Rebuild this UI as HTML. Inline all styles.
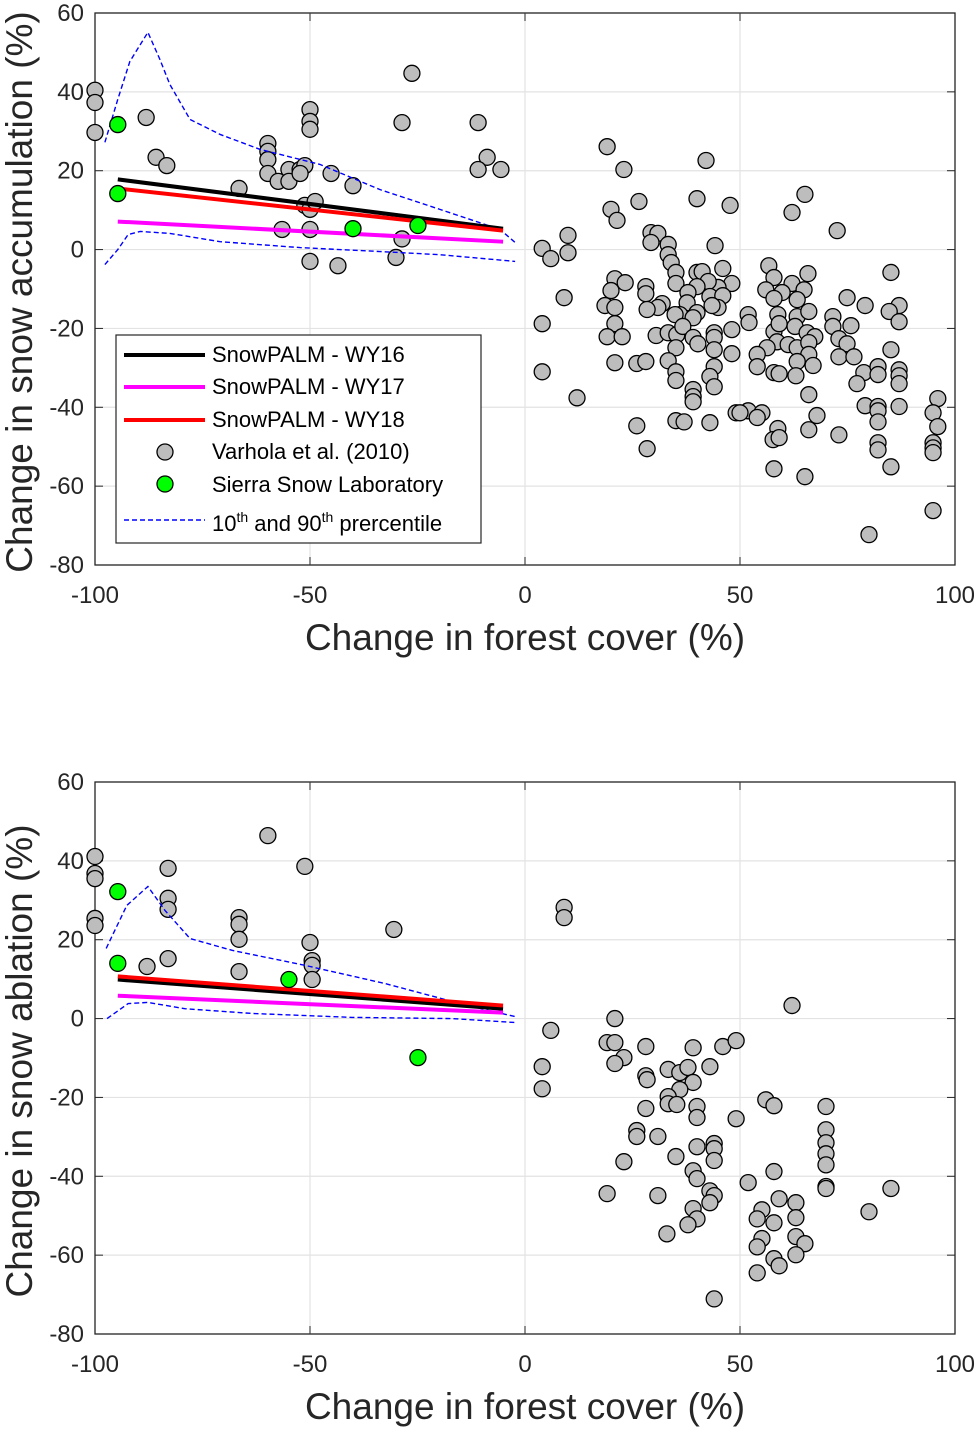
<!DOCTYPE html>
<html><head><meta charset="utf-8"><style>
body{margin:0;background:#fff;}
svg{display:block;font-family:"Liberation Sans",Arial,sans-serif;}
</style></head><body>
<svg id="fig" width="979" height="1429" viewBox="0 0 979 1429" xmlns="http://www.w3.org/2000/svg"></svg>
<script>
const xTicks=[-100,-50,0,50,100];
const yTicks=[-80,-60,-40,-20,0,20,40,60];
// Top panel: snow accumulation
const accVarhola=[[-100,40.4],[-100,37.3],[-100,29.7],[-88.1,33.5],[-85.8,23.4],[-83.3,21.3],[-66.5,15.5],[-59.8,26.9],[-59.8,24.9],[-59.8,22.8],[-59.8,19.3],[-57.4,17.3],[-54.9,20.3],[-54.9,17.3],[-52.3,20.3],[-51.2,21.3],[-50,35.5],[-50,32.5],[-50,30.5],[-51.2,11.2],[-50,10.2],[-48.8,12.2],[-52.3,19.3],[-45.1,19.3],[-40,16.2],[-56.5,5.1],[-50,-3],[-50,5.1],[-43.5,-4.1],[-30,-2],[-28.6,2.7],[-28.6,32.2],[-26.3,44.7],[-10.9,32.2],[-8.8,23.4],[-10.9,20.3],[-5.6,20.3],
[19.1,26.1],[23.0,20.3],[42.1,22.6],[40.0,12.9],[47.7,11.2],[26.5,12.2],[20.0,10.2],[21.4,7.4],[10.0,3.6],[10.0,-0.8],[4.0,0.3],[6.0,-2.3],[44.2,1.0],[29.3,4.3],[30.9,4.1],[29.3,1.8],[33.3,1.3],[33.3,-1.3],[34.0,-3.3],[35.1,-5.8],[35.1,-8.6],[40.0,-5.8],[41.2,-5.6],[46.0,-4.8],[48.1,-8.6],[44.9,-9.6],[42.6,-8.1],[40.0,-9.4],[37.9,-10.9],[43.0,-11.9],[46.0,-11.7],[44.9,-14.7],[43.5,-14.2],[20.9,-7.4],[23.3,-8.4],[20.0,-10.4],[9.1,-12.2],[28.1,-9.4],[28.1,-11.2],[31.9,-13.7],[30.9,-14.7],[28.4,-15.2],[37.7,-13.5],[40.0,-16.0],[36.0,-16.5],[34.9,-16.5],[39.1,-17.3],[18.6,-14.2],[20.9,-14.7],[20.9,-18.8],[4.0,-18.8],[19.1,-22.1],[22.6,-22.1],[30.5,-21.8],[33.3,-21.1],[35.3,-21.6],[36.7,-19.5],[39.1,-22.3],[40.2,-23.9],[44.0,-21.1],[44.0,-22.3],[44.0,-25.4],[48.1,-20.3],[48.1,-26.4],[35.1,-24.9],[20.9,-28.7],[26.0,-28.9],[28.1,-28.4],[33.3,-28.2],[35.1,-31.0],[35.1,-33.2],[44.0,-29.7],[43.0,-32.2],[44.0,-34.8],[4.0,-31.0],[12.1,-37.6],[39.1,-35.5],[39.1,-37.3],[39.1,-38.6],[26.0,-44.7],[35.1,-43.4],[37.0,-43.7],[43.0,-43.9],[49.1,-41.4],[28.4,-50.5],
[65.1,14.0],[62.1,9.4],[72.6,4.8],[56.7,-4.1],[57.9,-7.1],[65.8,-6.1],[62.1,-8.6],[64.9,-10.2],[56.0,-10.2],[59.8,-10.9],[57.9,-12.4],[63.3,-12.7],[74.9,-12.2],[79.1,-14.2],[85.1,-5.8],[87.0,-14.2],[84.7,-15.7],[87.0,-18.3],[51.9,-16.5],[52.1,-18.5],[58.8,-16.5],[57.9,-20.8],[59.1,-18.8],[63.3,-17.0],[62.8,-19.5],[66.0,-15.7],[71.6,-17.0],[71.6,-19.5],[75.8,-19.3],[65.6,-21.1],[67.4,-22.1],[58.6,-23.4],[56.3,-24.9],[54.0,-26.6],[54.0,-29.7],[61.2,-24.1],[63.3,-24.9],[66.0,-23.6],[66.0,-26.6],[63.3,-28.4],[67.0,-29.4],[63.0,-32.0],[57.9,-31.2],[59.1,-31.5],[73.0,-22.6],[74.9,-23.9],[73.0,-27.2],[76.5,-27.2],[85.1,-25.4],[78.8,-31.2],[82.1,-29.7],[82.1,-31.7],[77.2,-34.0],[87.0,-30.5],[87.0,-32.0],[87.0,-34.0],[66.0,-36.8],[51.9,-40.9],[55.1,-41.4],[54.0,-42.6],[50.0,-41.4],[67.9,-42.1],[66.0,-45.7],[58.8,-45.4],[57.7,-48.2],[59.1,-47.7],[73.0,-47.0],[79.1,-39.6],[82.1,-39.8],[82.1,-40.9],[82.1,-43.7],[87.0,-39.8],[82.1,-49.0],[82.1,-50.8],[85.1,-55.1],[57.9,-55.6],[65.1,-57.6],[96.0,-37.8],[94.9,-41.4],[96.0,-44.9],[94.9,-49.0],[94.9,-50.3],[94.9,-51.5],[94.9,-66.2],[80.0,-72.3]];
const accSSL=[[-94.7,31.7],[-94.7,14.2],[-40,5.3],[-24.9,6.1]];
const accWY16=[[-94.7,17.8],[-5.1,5.3]];
const accWY17=[[-94.7,7.1],[-5.1,2.0]];
const accWY18=[[-94.7,15.5],[-5.1,4.8]];
const accP90=[[-97.7,27.2],[-94.7,38.1],[-91.9,47.7],[-87.7,55.1],[-84.9,48.2],[-82.6,41.9],[-77.9,33.0],[-70.9,29.2],[-61.6,25.4],[-47.7,21.6],[-33.7,15.2],[-19.8,10.2],[-5.8,5.1],[-2.3,1.8]];
const accP10=[[-97.7,-3.8],[-94.7,0],[-92.3,3.8],[-89.5,4.6],[-82.6,4.1],[-70.9,2.0],[-52.3,0.5],[-33.7,-0.5],[-19.8,-1.3],[-2.3,-3.0]];
// Bottom panel: snow ablation
const ablVarhola=[[-100,41.1],[-100,36.8],[-100,35.5],[-100,25.4],[-100,23.6],[-83,38.1],[-83,30.5],[-83,27.7],[-83,15.2],[-87.9,13.2],[-59.8,46.4],[-66.5,25.6],[-66.5,23.9],[-66.5,20.1],[-66.5,11.9],[-51.2,38.6],[-50,19.3],[-49.5,14.7],[-49.5,13.5],[-49.5,9.9],[-30.5,22.6],
[9.1,28.2],[9.1,25.6],[62.1,3.3],[20.9,0],[6.0,-3.0],[19.1,-6.1],[20.9,-6.1],[23.0,-9.9],[20.9,-11.4],[28.1,-7.1],[39.1,-7.4],[46.0,-7.1],[49.1,-5.6],[43.0,-12.2],[4.0,-12.2],[4.0,-17.8],[33.3,-12.9],[36.0,-13.7],[37.9,-12.4],[39.1,-16.2],[36.0,-18.0],[28.1,-14.5],[28.4,-15.5],[33.3,-19.8],[33.3,-21.6],[35.3,-21.8],[28.1,-22.8],[40.0,-22.3],[40.0,-25.1],[49.1,-25.4],[56.0,-20.6],[57.9,-22.1],[70,-22.3],[70,-28.2],[70,-31.5],[70,-34.3],[70,-37.1],[70,-42.6],[70,-43.1],[26.0,-28.4],[26.0,-29.9],[30.9,-29.9],[40.0,-32.5],[44.0,-31.7],[44.0,-33.0],[44.0,-36.0],[35.1,-35.0],[23.0,-36.3],[39.1,-38.6],[40.0,-40.6],[57.9,-38.8],[51.9,-41.6],[19.1,-44.4],[30.9,-44.9],[43.0,-43.7],[44.0,-44.9],[43.0,-46.7],[85.1,-43.1],[59.1,-45.7],[63.0,-46.7],[63.0,-50.5],[80.0,-49.0],[39.1,-48.2],[40.0,-50.8],[37.9,-52.3],[33.0,-54.6],[55.1,-48.5],[54.0,-50.8],[57.9,-51.8],[55.1,-55.8],[54.0,-57.9],[63.0,-55.3],[65.1,-57.1],[63.0,-59.9],[57.9,-60.9],[59.1,-62.7],[54.0,-64.5],[44.0,-71.1]];
const ablSSL=[[-94.7,32.2],[-94.7,14.0],[-54.9,9.9],[-24.9,-9.9]];
const ablWY16=[[-94.7,9.9],[-5.1,2.5]];
const ablWY17=[[-94.7,5.8],[-5.1,1.5]];
const ablWY18=[[-94.7,10.7],[-5.1,3.3]];
const ablP90=[[-97.4,17.8],[-92.6,28.7],[-87.7,33.5],[-83.7,27.4],[-77.9,20.3],[-68.1,17.3],[-51.2,13.5],[-32.6,8.9],[-13.3,3.3],[-2.3,0.5]];
const ablP10=[[-97.2,0],[-92.3,3.8],[-87.7,4.1],[-79.1,2.5],[-63.5,1.3],[-40.2,0.3],[-17,0],[-2.3,-1.0]];

const NS='http://www.w3.org/2000/svg';
const svg=document.getElementById('fig');
function mk(tag,attrs,parent){const e=document.createElementNS(NS,tag);for(const k in attrs)e.setAttribute(k,attrs[k]);(parent||svg).appendChild(e);return e;}
const L=95,R=955;
function drawPanel(top,bottom,key,ytitle,V,S,w16,w17,w18,p90,p10){
  const g=mk('g',{});
  
  
  const sx=v=>L+(v+100)/200*(R-L);
  const sy=v=>top+(60-v)/140*(bottom-top);
  mk('rect',{x:L,y:top,width:R-L,height:bottom-top,fill:'#fff'},g);
  xTicks.forEach(t=>{const l=mk('line',{x1:sx(t),x2:sx(t),y1:top,y2:bottom,stroke:'#e3e3e3','stroke-width':1.2},g);
    
    const tx=mk('text',{x:sx(t),y:bottom+38,'font-size':24,'text-anchor':'middle',fill:'#262626'},g);tx.textContent=t;
    
    mk('line',{x1:sx(t),x2:sx(t),y1:bottom,y2:bottom-8,stroke:'#262626'},g);
    mk('line',{x1:sx(t),x2:sx(t),y1:top,y2:top+8,stroke:'#262626'},g);});
  yTicks.forEach(t=>{const l=mk('line',{x1:L,x2:R,y1:sy(t),y2:sy(t),stroke:'#e3e3e3','stroke-width':1.2},g);
    
    const tx=mk('text',{x:L-11,y:sy(t)+8,'font-size':24,'text-anchor':'end',fill:'#262626'},g);tx.textContent=t;
    
    mk('line',{x1:L,x2:L+8,y1:sy(t),y2:sy(t),stroke:'#262626'},g);
    mk('line',{x1:R,x2:R-8,y1:sy(t),y2:sy(t),stroke:'#262626'},g);});
  const box=mk('rect',{x:L,y:top,width:R-L,height:bottom-top,fill:'none',stroke:'#262626','stroke-width':1.3},g);
  
  const poly=(pts,color,w,dash,name)=>{const p=mk('polyline',{points:pts.map(d=>sx(d[0])+','+sy(d[1])).join(' '),fill:'none',stroke:color,'stroke-width':w},g);
    if(dash)p.setAttribute('stroke-dasharray',dash);
    };
  V.forEach(d=>{const c=mk('circle',{cx:sx(d[0]),cy:sy(d[1]),r:8,fill:'#bdbdbd',stroke:'#000','stroke-width':1.3},g);
    });
  poly(p90,'#0000ff',1.4,'5,3',key+'-p90-line');
  poly(p10,'#0000ff',1.4,'5,3',key+'-p10-line');
  poly(w16,'#000',4,null,key+'-wy16-line');
  poly(w17,'#ff00ff',4,null,key+'-wy17-line');
  poly(w18,'#ff0000',4,null,key+'-wy18-line');
  S.forEach(d=>{const c=mk('circle',{cx:sx(d[0]),cy:sy(d[1]),r:8,fill:'#00ff00',stroke:'#000','stroke-width':1.3},g);
    });
  const xt=mk('text',{x:525,y:bottom+85,'font-size':37,'text-anchor':'middle',fill:'#262626'},g);xt.textContent='Change in forest cover (%)';
  
  const cy=(top+bottom)/2+3;
  const yt=mk('text',{x:0,y:0,'font-size':37,'text-anchor':'middle',fill:'#262626',transform:'translate(32,'+cy+') rotate(-90)'},g);yt.textContent=ytitle;
  
}
drawPanel(13,565,'accumulation','Change in snow accumulation (%)',accVarhola,accSSL,accWY16,accWY17,accWY18,accP90,accP10);
drawPanel(782,1334,'ablation','Change in snow ablation (%)',ablVarhola,ablSSL,ablWY16,ablWY17,ablWY18,ablP90,ablP10);
</script>
<svg style="position:absolute;left:0;top:0" width="979" height="1429">
<g font-family="Liberation Sans, Arial, sans-serif" font-size="22" fill="#000">
<rect x="116" y="335" width="365" height="208" fill="#fff" stroke="#262626" stroke-width="1.2"/>
<line x1="124" y1="355" x2="205" y2="355" stroke="#000" stroke-width="4"/>
<text x="212" y="362">SnowPALM - WY16</text>
<line x1="124" y1="387" x2="205" y2="387" stroke="#ff00ff" stroke-width="4"/>
<text x="212" y="394">SnowPALM - WY17</text>
<line x1="124" y1="420" x2="205" y2="420" stroke="#ff0000" stroke-width="4"/>
<text x="212" y="427">SnowPALM - WY18</text>
<circle cx="165" cy="452" r="8" fill="#bdbdbd" stroke="#000" stroke-width="1.3"/>
<text x="212" y="459">Varhola et al. (2010)</text>
<circle cx="165" cy="484" r="8" fill="#00ff00" stroke="#000" stroke-width="1.3"/>
<text x="212" y="492">Sierra Snow Laboratory</text>
<line x1="124" y1="520" x2="205" y2="520" stroke="#0000ff" stroke-width="1.4" stroke-dasharray="5,3"/>
<text x="212" y="531">10<tspan font-size="14" dy="-9">th</tspan><tspan dy="9"> and 90</tspan><tspan font-size="14" dy="-9">th</tspan><tspan dy="9"> prercentile</tspan></text>
</g></svg>
</body></html>
